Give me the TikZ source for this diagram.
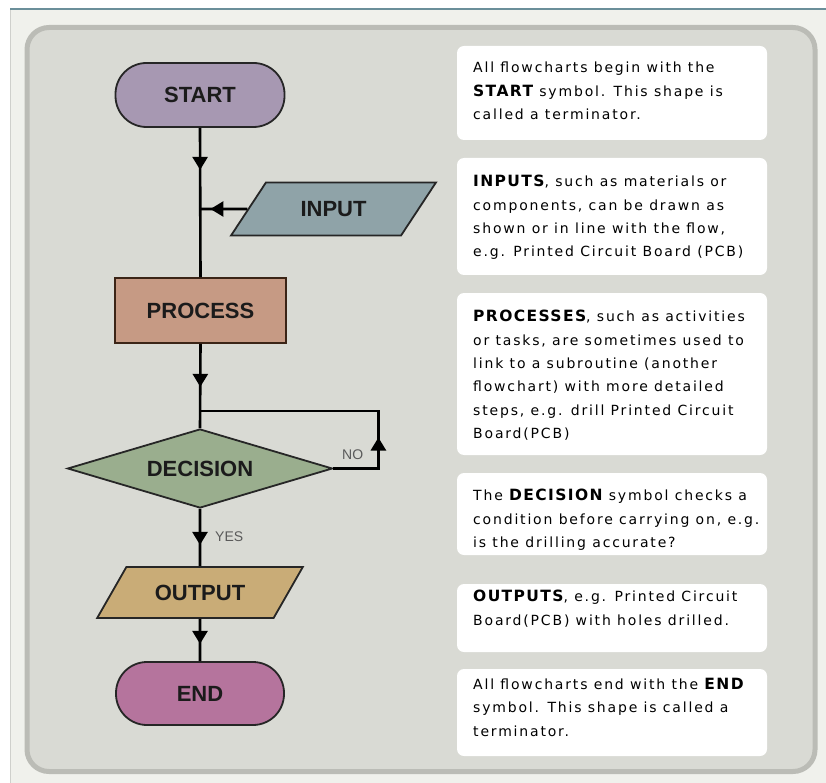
\documentclass[tikz,border=0pt]{standalone}
\usepackage{fontspec}
\setmainfont{Liberation Sans}
\newfontfamily\notefont[LetterSpace=13]{DejaVu Sans}
\newfontfamily\notebold[LetterSpace=9]{DejaVu Sans Bold}
\newcommand\kw[1]{{\notebold\fontsize{15.5}{23.4}\selectfont #1}}
\usetikzlibrary{shapes.geometric,decorations.markings,arrows.meta}

\definecolor{pagebg}{HTML}{F0F1EC}
\definecolor{topline}{HTML}{6B8F9A}
\definecolor{sideline}{HTML}{CFD0CC}
\definecolor{panelfill}{HTML}{D9DAD4}
\definecolor{panelrim}{HTML}{BBBCB6}
\definecolor{startfill}{HTML}{A798B2}
\definecolor{inputfill}{HTML}{8FA3A8}
\definecolor{procfill}{HTML}{C69A84}
\definecolor{procrim}{HTML}{3B2416}
\definecolor{decfill}{HTML}{9AAE8E}
\definecolor{outfill}{HTML}{C9AC77}
\definecolor{endfill}{HTML}{B5749D}
\definecolor{shapetext}{HTML}{1B1B1B}
\definecolor{labelgray}{HTML}{5A5A5A}

\tikzset{
  shapebase/.style={draw=black!85, line width=1.8pt, inner sep=0pt, text=shapetext,
    font=\fontsize{22}{26}\selectfont\bfseries},
  terminal/.style={shapebase, rectangle, rounded corners=31pt,
    minimum width=169pt, minimum height=64pt},
  procbox/.style={shapebase, rectangle, draw=procrim, fill=procfill,
    minimum width=171pt, minimum height=65pt},
  iobox/.style={shapebase, trapezium, trapezium stretches=true,
    trapezium left angle=#1, trapezium right angle=180-#1},
  decbox/.style={shapebase, diamond, aspect=3.35, fill=decfill,
    minimum width=265pt, minimum height=79pt},
  flowline/.style={line width=2.6pt, black},
  midarrow/.style={postaction={decorate}, decoration={markings,
    mark=at position #1 with {\arrow{Triangle[width=15pt,length=13pt]}}}},
  branchlabel/.style={text=labelgray, font=\fontsize{14}{16}\selectfont, inner sep=0pt},
  infobox/.style={rectangle, fill=white, rounded corners=7pt, minimum width=310pt, inner sep=0pt},
  % anchored at the baseline of the last line
  infotext/.style={anchor=base west, align=left, inner sep=0pt, text=black,
    font=\notefont\fontsize{14}{23.4}\selectfont}
}

\begin{document}
\begin{tikzpicture}[x=1pt, y=-1pt]
  \useasboundingbox (0,0) rectangle (826,783);

  % page background, header rule and panel
  \fill[white] (0,0) rectangle (826,783);
  \fill[pagebg] (10,9) rectangle (826,783);
  \draw[sideline, line width=1.2pt] (10.5,9) -- (10.5,783);
  \draw[topline, line width=2pt] (10,9.5) -- (826,9.5);
  \draw[fill=panelfill, draw=panelrim, line width=5pt, rounded corners=22pt]
    (27,27.5) rectangle (815,771.5);

  % flowchart symbols
  \node[terminal, fill=startfill] (start) at (200,95) {START};
  \node[iobox=42, fill=inputfill, minimum width=207pt, minimum height=53pt] (input) at (333.5,209) {INPUT};
  \node[procbox] (process) at (200.5,310.5) {PROCESS};
  \node[decbox] (decision) at (200,468.5) {DECISION};
  \node[iobox=41, fill=outfill, minimum width=206pt, minimum height=51pt] (output) at (200,592.5) {OUTPUT};
  \node[terminal, fill=endfill, minimum width=168pt, minimum height=63pt] (end) at (200,693.5) {END};

  % junction points on the main line
  \coordinate (joinin) at (200,209);
  \coordinate (joinloop) at (200,411);

  % connectors
  \draw[flowline, midarrow=42pt] (start.south) -- (process.north);
  \draw[flowline, midarrow=37pt] (input.west) -- (joinin);
  \draw[flowline, midarrow=43pt] (process.south) -- (decision.north);
  \draw[flowline, midarrow=76pt] (decision.east) -- ++(45,0) |- (joinloop);
  \draw[flowline, midarrow=36pt] (decision.south) -- (output.north);
  \draw[flowline, midarrow=25pt] (output.south) -- (end.north);

  % branch labels
  \node[branchlabel, anchor=west] (nolabel) at (342,455) {NO};
  \node[branchlabel, anchor=west] (yeslabel) at (215,537) {YES};

  % explanation panels
  \node[infobox, minimum height=94pt]  (b1) at (612,93) {};
  \node[infobox, minimum height=117pt] (b2) at (612,216.5) {};
  \node[infobox, minimum height=162pt] (b3) at (612,374) {};
  \node[infobox, minimum height=82pt]  (b4) at (612,514) {};
  \node[infobox, minimum height=68pt]  (b5) at (612,618) {};
  \node[infobox, minimum height=87pt]  (b6) at (612,712.5) {};

  \node[infotext] (t1) at (473,119.5) {All flowcharts begin with the\\
    \kw{START} symbol. This shape is\\ called a terminator.};
  \node[infotext] (t2) at (473,256.9) {\kw{INPUTS}, such as materials or\\
    components, can be drawn as\\ shown or in line with the flow,\\
    e.g. Printed Circuit Board (PCB)};
  \node[infotext] (t3) at (473,438.7) {\kw{PROCESSES}, such as activities\\
    or tasks, are sometimes used to\\ link to a subroutine (another\\
    flowchart) with more detailed\\ steps, e.g. drill Printed Circuit\\ Board(PCB)};
  \node[infotext] (t4) at (473,547.5) {The \kw{DECISION} symbol checks a\\
    condition before carrying on, e.g.\\ is the drilling accurate?};
  \node[infotext] (t5) at (473,625.1) {\kw{OUTPUTS}, e.g. Printed Circuit\\
    Board(PCB) with holes drilled.};
  \node[infotext] (t6) at (473,736.1) {All flowcharts end with the \kw{END}\\
    symbol. This shape is called a\\ terminator.};
\end{tikzpicture}
\end{document}
